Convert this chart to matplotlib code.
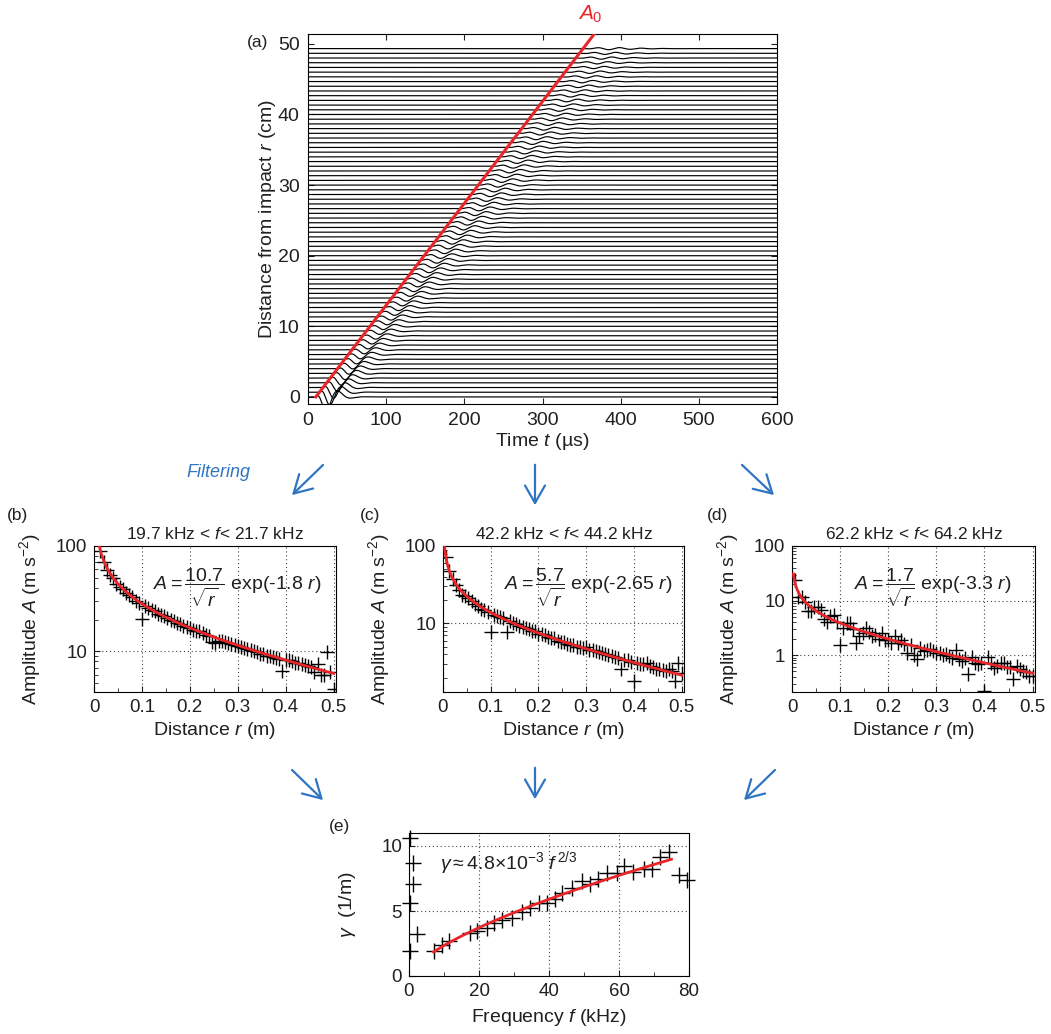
import numpy as np
import matplotlib
matplotlib.use('Agg')
import matplotlib.pyplot as plt
from matplotlib.ticker import LogLocator, NullFormatter, FuncFormatter, MultipleLocator
from matplotlib.patches import FancyArrowPatch

plt.rcParams['font.family'] = ['Liberation Sans', 'DejaVu Sans']
plt.rcParams['mathtext.fontset'] = 'custom'
plt.rcParams['mathtext.rm'] = 'Liberation Sans'
plt.rcParams['mathtext.it'] = 'Liberation Sans:italic'
plt.rcParams['mathtext.bf'] = 'Liberation Sans:bold'
plt.rcParams['mathtext.sf'] = 'Liberation Sans'
TXT = '#231f20'
plt.rcParams['text.color'] = TXT
plt.rcParams['axes.labelcolor'] = TXT
plt.rcParams['xtick.color'] = TXT
plt.rcParams['ytick.color'] = TXT

RED = '#e8262a'
BLUE = '#2f75c1'

# ---------------- data ----------------
# (a) waveforms: one trace every 2/3 cm
TRACE_R_CM = np.arange(75) * 2.0 / 3.0
TRACE_AMP = [2.0, 1.8, 1.5, 1.2, 1.0, 0.88, 0.78, 0.7, 0.65, 0.6,
             0.56, 0.53, 0.5, 0.48, 0.47, 0.46,
             0.45, 0.45, 0.44, 0.44,
             0.43, 0.43, 0.42, 0.42, 0.41, 0.41, 0.40, 0.40, 0.39, 0.39,
             0.38, 0.37, 0.37, 0.36, 0.35, 0.35, 0.34, 0.33, 0.33, 0.32,
             0.31, 0.31, 0.30, 0.30, 0.29, 0.28, 0.28, 0.27, 0.27, 0.26,
             0.26, 0.25, 0.25, 0.24, 0.24, 0.23, 0.23, 0.22, 0.22, 0.21,
             0.21, 0.21, 0.20, 0.20, 0.19, 0.19, 0.19, 0.18, 0.18, 0.18,
             0.17, 0.17, 0.17, 0.16, 0.16]
A0_T0_US = 10.0          # start of A0 front (µs)
A0_SPEED = 0.1443        # cm per µs

# (b)-(d) amplitude vs distance
R_M = np.arange(1, 76) / 150.0
AMP_B = [128, 90, 70, 59, 53, 50, 44, 41, 39, 36,
         34, 33, 30, 29, 20.4, 27, 25.5, 24.5, 24, 22.5,
         22, 21.5, 20.5, 20, 19.5, 18.5, 18, 17.5, 17, 16.5,
         16, 15.5, 15.5, 15, 14.3, 14, 12.2, 12.0, 12.4, 12.6,
         12.3, 12.0, 11.8, 11.5, 11.3, 11.0, 10.7, 10.5, 10.3, 10.0,
         9.8, 9.5, 9.4, 9.1, 9.0, 8.8, 8.6, 8.5, 6.5, 8.3,
         8.2, 8.0, 7.8, 7.7, 7.6, 7.4, 7.2, 7.1, 6.3, 7.6,
         5.9, 6.0, 9.9, 6.3, 4.4]
AMP_C = [72, 48, 38, 31, 27, 23, 22.5, 21, 19.5, 18,
         17, 15.5, 14.8, 14, 7.8, 13, 12.3, 12, 11.6, 7.8,
         10.7, 10.2, 9.8, 9.3, 9.0, 8.8, 8.4, 8.0, 7.9, 7.4,
         7.3, 7.0, 6.6, 6.5, 6.4, 6.0, 5.8, 5.7, 5.4, 5.3,
         5.2, 5.0, 4.9, 4.8, 5.0, 4.6, 4.5, 4.4, 4.3, 4.2,
         4.0, 3.9, 3.8, 3.7, 3.6, 2.6, 3.4, 3.4, 3.2, 1.8,
         3.1, 3.0, 3.0, 3.1, 2.8, 2.7, 2.6, 2.6, 2.5, 2.45,
         2.6, 2.4, 1.8, 3.05, 2.3]
AMP_D = [23.5, 11.7, 11.7, 9.5, 6.3, 6.3, 7.5, 7.7, 6.7, 4.5,
         4.1, 5.1, 5.4, 4.0, 1.5, 3.2, 3.8, 3.8, 3.0, 1.65,
         2.2, 2.5, 3.1, 2.6, 2.2, 2.3, 2.0, 2.5, 1.9, 1.9,
         1.65, 2.2, 1.65, 1.9, 1.6, 1.1, 1.5, 1.0, 0.85, 1.35,
         1.2, 1.25, 1.3, 1.2, 1.1, 1.1, 1.0, 1.05, 0.95, 0.9,
         1.25, 0.85, 0.77, 0.88, 0.44, 0.94, 0.72, 0.68, 0.72, 0.22,
         0.94, 0.7, 0.58, 0.62, 0.7, 0.7, 0.6, 0.6, 0.36, 0.62,
         0.55, 0.5, 0.48, 0.41, 0.41]
FIT_B = (10.7, 1.8)
FIT_C = (5.7, 2.65)
FIT_D = (1.7, 3.3)
TITLES = ['19.7 kHz < $f$< 21.7 kHz', '42.2 kHz < $f$< 44.2 kHz', '62.2 kHz < $f$< 64.2 kHz']
EQS = [r'$A=\dfrac{10.7}{\sqrt{r}}$ exp(-1.8 $r$)',
       r'$A=\dfrac{5.7}{\sqrt{r}}$ exp(-2.65 $r$)',
       r'$A=\dfrac{1.7}{\sqrt{r}}$ exp(-3.3 $r$)']

# (e) attenuation vs frequency
F_KHZ = [0.3, 1.0, 1.2, 0.3, 2.4, 0.3, 7.2, 9.3, 11.5, 17.4,
         19.3, 22.2, 24.4, 26.7, 29.3, 32.2, 34.6, 37.0, 39.3, 41.7,
         43.6, 46.5, 49.3, 51.7, 54.1, 56.5, 59.3, 61.4, 64.1, 67.0,
         69.3, 71.7, 74.4, 77.0, 79.5]
GAMMA = [10.6, 8.66, 7.07, 5.58, 3.26, 1.93, 1.9, 2.37, 2.67, 3.32,
         3.47, 3.73, 4.04, 4.29, 4.5, 4.94, 5.24, 5.58, 5.58, 5.89,
         6.35, 6.79, 7.3, 7.07, 7.5, 7.89, 7.89, 8.46, 8.02, 8.2,
         8.2, 9.18, 9.56, 7.76, 7.38]
GAMMA_FIT_COEF = 5.05e-3   # 1/m per Hz^(2/3) (as drawn)
GAMMA_FIT_RANGE_KHZ = (7.0, 75.0)

# ---------------- layout ----------------
W, H = 1051, 1034
fig = plt.figure(figsize=(W / 100, H / 100), dpi=100)


def rect(l, t, r, b):
    return [l / W, 1 - b / H, (r - l) / W, (b - t) / H]


def px(x, y):
    return (x / W, 1 - y / H)


# ---------------- (a) ----------------
axa = fig.add_axes(rect(308, 34, 777, 404))
t = np.linspace(0, 600, 1501)
for r, a in zip(TRACE_R_CM, TRACE_AMP):
    t_arr = A0_T0_US + r / A0_SPEED
    tau = np.clip(t - t_arr, 0, None)
    tp = 13 + 0.4 * r
    per = 34 - 0.12 * r
    env = (tau / tp) ** 2 * np.exp(2 * (1 - tau / tp))
    s = -a * env * np.cos(2 * np.pi * (tau - tp) / per)
    axa.plot(t, r + s, color='black', lw=0.85, zorder=2)
r_line = np.array([0.0, 51.4])
axa.plot(A0_T0_US + r_line / A0_SPEED, r_line, color=RED, lw=2.2, zorder=3)
axa.set_xlim(0, 600)
axa.set_ylim(-1.0, 51.4)
axa.set_xticks([0, 100, 200, 300, 400, 500, 600])
axa.set_yticks([0, 10, 20, 30, 40, 50])
axa.tick_params(direction='in', top=True, right=True, labelsize=14, length=4, pad=6)
axa.set_xlabel('Time $t$ (µs)', fontsize=14, labelpad=1)
axa.set_ylabel('Distance from impact $r$ (cm)', fontsize=14, labelpad=0)
fig.text(*px(590, 14), r'$A_{\mathit{0}}$', color=RED, fontsize=15, ha='center', va='center')
fig.text(*px(258, 43), '(a)', fontsize=12.5, ha='center', va='center')

# ---------------- (b)-(d) ----------------
rects = [rect(94, 546, 336, 692), rect(443, 546, 684, 692), rect(792, 546, 1035, 692)]
ylims = [(4.1, 100), (1.3, 100), (0.21, 100)]
datas = [AMP_B, AMP_C, AMP_D]
fits = [FIT_B, FIT_C, FIT_D]
labels = ['(b)', '(c)', '(d)']
label_x = [18, 370, 718]
eq_x = [237, 588, 933]
r_fit = np.linspace(0.003, 0.5, 400)
for i in range(3):
    ax = fig.add_axes(rects[i])
    ax.set_yscale('log')
    ax.plot(r_fit, fits[i][0] / np.sqrt(r_fit) * np.exp(-fits[i][1] * r_fit), color=RED, lw=2, zorder=3)
    ax.plot(R_M, datas[i], ls='none', marker='+', ms=10, mew=1.0, color='black', zorder=2)
    ax.set_xlim(0, 0.505)
    ax.set_ylim(*ylims[i])
    ax.set_xticks([0, 0.1, 0.2, 0.3, 0.4, 0.5])
    ax.set_xticklabels(['0', '0.1', '0.2', '0.3', '0.4', '0.5'])
    ax.xaxis.set_minor_locator(MultipleLocator(0.05))
    ax.yaxis.set_major_locator(LogLocator(base=10, numticks=10))
    ax.yaxis.set_major_formatter(FuncFormatter(lambda v, p: '%g' % v))
    ax.yaxis.set_minor_locator(LogLocator(base=10, subs=np.arange(2, 10), numticks=20))
    ax.yaxis.set_minor_formatter(NullFormatter())
    ax.tick_params(which='both', direction='in', labelsize=13.5, pad=5)
    ax.tick_params(which='major', length=4)
    ax.tick_params(which='minor', length=3)
    ax.grid(True, which='major', ls=(0, (1, 2.5)), color='#444444', lw=0.8)
    ax.set_axisbelow(True)
    ax.set_xlabel('Distance $r$ (m)', fontsize=14, labelpad=3)
    ax.set_ylabel('Amplitude $A$ (m s$^{-2}$)', fontsize=14, labelpad=9)
    ax.set_title(TITLES[i], fontsize=12.5, pad=5)
    fig.text(*px(eq_x[i], 588), EQS[i], fontsize=14, ha='center', va='center')
    fig.text(*px(label_x[i], 515), labels[i], fontsize=12.5, ha='center', va='center')

# ---------------- (e) ----------------
axe = fig.add_axes(rect(409, 833, 689, 976))
f_fit = np.linspace(GAMMA_FIT_RANGE_KHZ[0], GAMMA_FIT_RANGE_KHZ[1], 200)
axe.plot(f_fit, GAMMA_FIT_COEF * (f_fit * 1e3) ** (2 / 3), color=RED, lw=2, zorder=3)
axe.plot(F_KHZ, GAMMA, ls='none', marker='+', ms=11, mew=1.0, color='black', zorder=2, clip_on=False)
axe.set_xlim(0, 80)
axe.set_ylim(0, 11)
axe.set_xticks([0, 20, 40, 60, 80])
axe.set_yticks([0, 5, 10])
axe.xaxis.set_minor_locator(MultipleLocator(10))
axe.tick_params(which='both', direction='in', labelsize=13.5, pad=5)
axe.tick_params(which='major', length=4)
axe.tick_params(which='minor', length=3)
axe.grid(True, which='major', ls=(0, (1, 2.5)), color='#444444', lw=0.8)
axe.set_axisbelow(True)
axe.set_xlabel('Frequency $f$ (kHz)', fontsize=14, labelpad=5)
axe.set_ylabel(r'$\gamma$  (1/m)', fontsize=14, labelpad=17)
fig.text(*px(440, 863), r'$\gamma\approx 4.8{\times}10^{-3}\ f^{\,2/3}$', fontsize=14, ha='left', va='center')
fig.text(*px(340, 826), '(e)', fontsize=12.5, ha='center', va='center')

# ---------------- arrows ----------------
fig.text(*px(218, 473), 'Filtering', color=BLUE, fontsize=13, style='italic', ha='center', va='center')
arrows = [((325, 463), (290, 497)), ((535, 462), (535, 508)), ((740, 463), (776, 497)),
          ((290, 768), (325, 802)), ((535, 765), (535, 802)), ((777, 768), (742, 802))]
for (x0, y0), (x1, y1) in arrows:
    fig.add_artist(FancyArrowPatch(px(x0, y0), px(x1, y1), transform=fig.transFigure,
                                   arrowstyle='->,head_length=0.7,head_width=0.4',
                                   mutation_scale=18, color=BLUE, lw=1.6))

fig.savefig('out.png', dpi=100)
